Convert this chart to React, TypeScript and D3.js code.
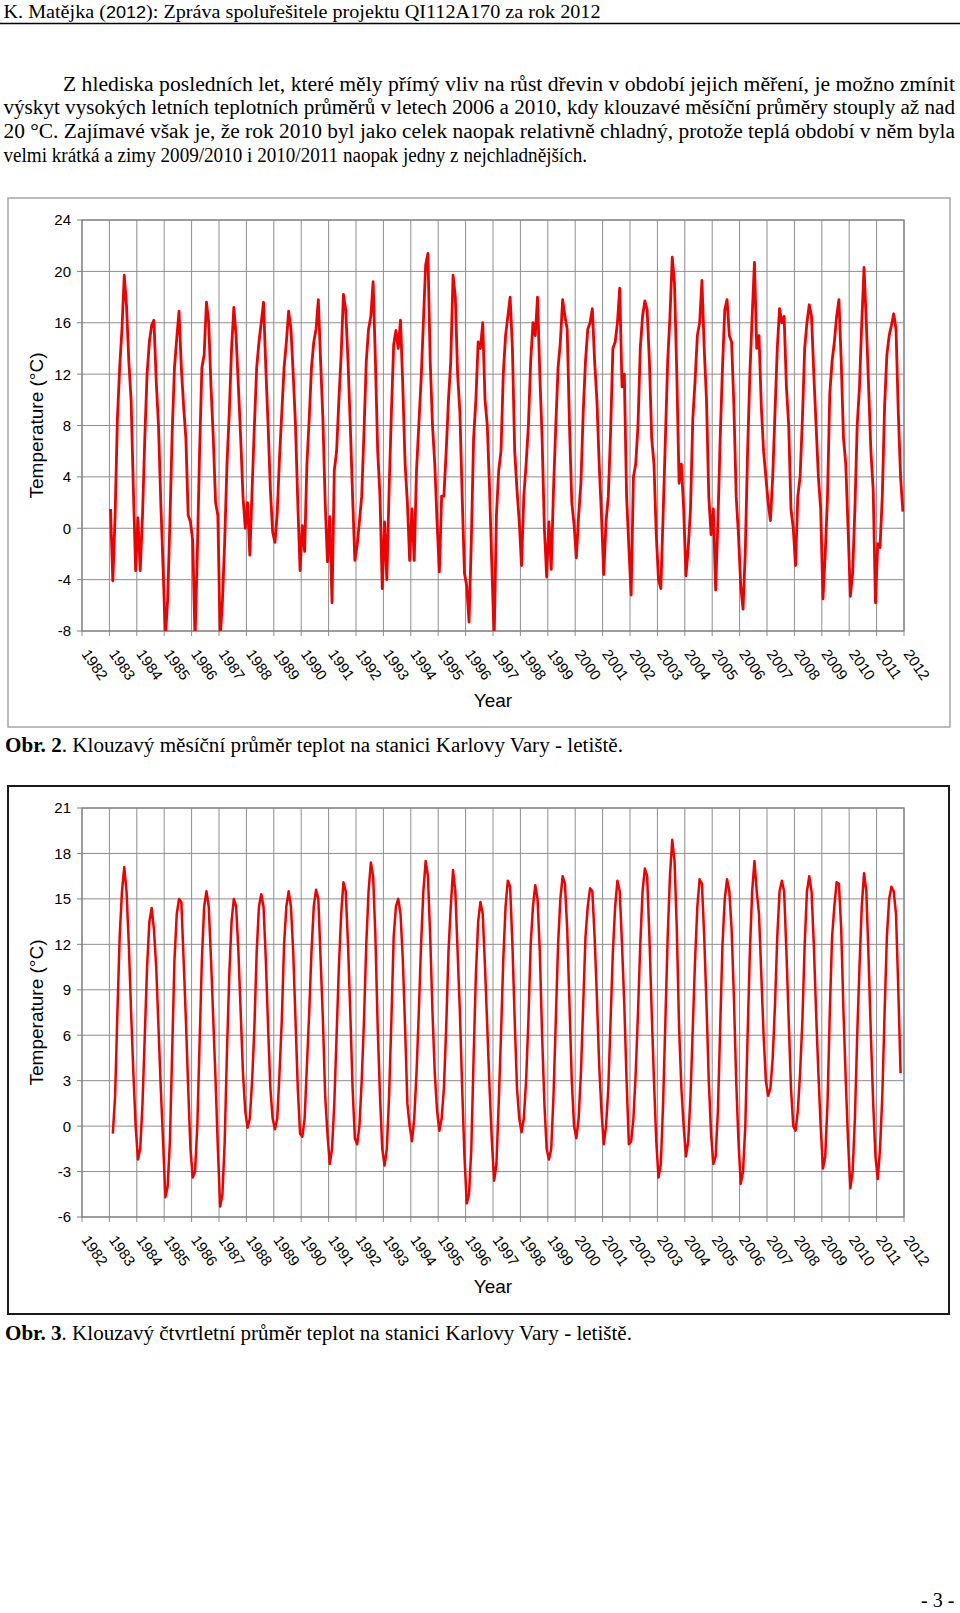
import React from 'react';
import * as d3 from 'd3';

// ---------- DATA ----------
const yearLabels = ['1982','1983','1984','1985','1986','1987','1988','1989','1990','1991','1992','1993','1994','1995','1996','1997','1998','1999','2000','2001','2002','2003','2004','2005','2006','2007','2008','2009','2010','2011','2012'];
const dataYears = [1983,1984,1985,1986,1987,1988,1989,1990,1991,1992,1993,1994,1995,1996,1997,1998,1999,2000,2001,2002,2003,2004,2005,2006,2007,2008,2009,2010,2011];

const monthlyTicks = [-8, -4, 0, 4, 8, 12, 16, 20, 24];
const quarterlyTicks = [-6, -3, 0, 3, 6, 9, 12, 15, 18, 21];

// klouzavý měsíční průměr (values per month Jan..Dec)
const monthlyMean: (number | null)[][] = [
  [1.5, -4.1, 1.0, 8.5, 12.5, 15.5, 19.7, 17.3, 13.0, 10.0, 3.0, -3.3],
  [0.8, -3.3, 1.0, 7.0, 12.0, 14.5, 15.8, 16.2, 11.5, 8.0, 2.0, -3.0],
  [-8.6, -5.6, 0.5, 7.5, 12.5, 14.8, 16.9, 12.5, 9.5, 7.0, 1.0, 0.5],
  [-1.0, -8.6, -2.0, 6.0, 12.5, 13.5, 17.6, 16.0, 11.0, 7.0, 2.0, 1.0],
  [-8.6, -5.7, -1.0, 5.0, 9.0, 14.0, 17.2, 14.9, 11.0, 7.0, 2.5, 0.0],
  [2.0, -2.1, 3.0, 8.0, 12.5, 14.5, 16.0, 17.6, 12.5, 8.0, 3.0, -0.3],
  [-1.1, 1.2, 5.5, 9.0, 12.5, 14.5, 16.9, 15.5, 12.0, 8.0, 2.0, -3.3],
  [0.2, -1.8, 5.0, 8.5, 12.5, 14.5, 15.5, 17.8, 13.0, 8.5, 2.0, -2.6],
  [0.9, -5.8, 4.5, 6.0, 10.0, 13.5, 18.2, 17.0, 13.0, 8.0, 2.5, -2.5],
  [-1.3, 0.5, 2.5, 7.5, 13.0, 15.5, 16.5, 19.2, 13.0, 6.0, 2.5, -4.7],
  [0.5, -4.0, 3.0, 9.0, 14.3, 15.4, 14.0, 16.2, 11.0, 5.0, 2.0, -2.5],
  [1.5, -2.5, 4.5, 8.0, 11.5, 16.0, 20.5, 21.4, 13.0, 8.0, 5.0, 0.5],
  [-3.4, 2.5, 2.5, 6.0, 10.0, 13.0, 19.7, 18.0, 12.0, 9.0, 2.5, -3.5],
  [-4.5, -7.3, -1.0, 7.0, 10.0, 14.5, 14.0, 16.0, 10.0, 8.0, 3.0, -3.0],
  [-8.6, 1.0, 4.5, 6.0, 12.0, 15.0, 16.5, 18.0, 14.0, 6.0, 3.0, 0.5],
  [-2.9, 2.5, 5.0, 8.0, 13.0, 16.0, 15.0, 18.0, 12.0, 7.0, 0.0, -3.8],
  [0.5, -3.2, 3.0, 8.0, 12.5, 14.5, 17.8, 16.5, 15.5, 8.0, 2.0, 0.3],
  [-2.3, 1.0, 3.5, 9.0, 13.0, 15.5, 16.0, 17.1, 13.0, 10.0, 5.0, 1.0],
  [-3.6, 0.5, 2.5, 7.5, 14.0, 14.5, 16.0, 18.7, 11.0, 12.0, 2.5, -1.5],
  [-5.2, 4.0, 5.0, 8.0, 14.0, 16.5, 17.7, 17.0, 13.0, 7.0, 5.0, -0.5],
  [-4.0, -4.7, 1.0, 7.0, 13.0, 16.5, 21.1, 19.0, 12.0, 3.5, 5.0, 1.5],
  [-3.7, -1.5, 1.5, 8.5, 11.5, 15.0, 16.0, 19.3, 14.0, 10.0, 2.5, -0.5],
  [1.5, -4.8, 0.5, 7.0, 12.5, 17.0, 17.8, 15.0, 14.5, 9.5, 2.5, -0.5],
  [-4.5, -6.3, -1.8, 6.0, 12.0, 16.5, 20.7, 14.0, 15.0, 9.5, 6.0, 4.0],
  [2.0, 0.6, 4.0, 9.0, 14.0, 17.1, 16.0, 16.5, 11.0, 8.0, 1.5, 0.0],
  [-2.9, 2.5, 4.0, 8.5, 14.0, 16.0, 17.4, 16.5, 12.0, 8.0, 4.0, 1.5],
  [-5.5, -2.0, 2.5, 10.5, 13.0, 14.5, 16.5, 17.8, 13.0, 7.0, 5.0, 0.0],
  [-5.3, -3.5, 1.5, 8.0, 11.0, 16.0, 20.3, 16.0, 11.0, 6.0, 3.0, -5.8],
  [-1.2, -1.5, 2.5, 9.5, 13.5, 15.0, 15.8, 16.7, 15.5, 9.0, 4.0, 1.3],
];

// klouzavý čtvrtletní průměr (values per month Jan..Dec)
const quarterlyMean: (number | null)[][] = [
  [null, -0.5, 2.0, 7.5, 12.5, 15.5, 17.1, 15.5, 12.0, 7.5, 3.5, 0.0],
  [-2.2, -1.5, 1.5, 6.0, 10.5, 13.5, 14.4, 13.0, 10.5, 6.5, 2.5, -1.0],
  [-4.7, -4.0, -1.0, 5.0, 11.0, 14.0, 15.0, 14.8, 11.0, 7.0, 2.5, -1.5],
  [-3.4, -3.0, 0.0, 5.5, 11.0, 14.5, 15.5, 14.5, 11.0, 7.0, 3.0, -1.5],
  [-5.3, -4.5, -1.0, 5.0, 10.0, 13.5, 15.0, 14.5, 11.5, 7.5, 3.5, 1.0],
  [-0.1, 0.5, 3.0, 6.5, 11.5, 14.5, 15.3, 14.5, 11.0, 6.5, 2.5, 0.5],
  [-0.2, 0.5, 3.5, 7.0, 12.0, 14.5, 15.5, 14.5, 11.5, 7.0, 2.5, -0.5],
  [-0.7, 0.5, 4.0, 7.5, 11.5, 14.5, 15.6, 15.0, 11.0, 7.0, 2.0, -0.5],
  [-2.5, -1.5, 1.5, 6.0, 10.5, 14.0, 16.1, 15.5, 12.0, 7.5, 2.5, -0.8],
  [-1.2, 0.0, 3.0, 7.0, 12.0, 15.5, 17.4, 16.5, 12.5, 6.5, 2.0, -1.5],
  [-2.6, -1.5, 2.0, 7.0, 12.5, 14.5, 15.0, 14.0, 11.0, 6.5, 1.5, 0.0],
  [-1.0, 0.5, 3.5, 7.5, 12.0, 15.5, 17.5, 16.5, 12.5, 7.5, 3.5, 1.0],
  [-0.3, 0.5, 2.5, 6.5, 11.5, 14.5, 16.9, 15.5, 11.5, 7.5, 2.5, -2.0],
  [-5.1, -4.5, -1.5, 4.5, 10.0, 13.5, 14.8, 14.0, 10.5, 6.5, 2.5, -1.0],
  [-3.6, -2.5, 1.5, 6.0, 11.0, 14.5, 16.2, 15.8, 12.0, 7.0, 2.5, 0.5],
  [-0.4, 0.5, 3.0, 7.0, 12.0, 14.5, 15.9, 15.0, 11.5, 6.0, 1.5, -1.5],
  [-2.2, -1.5, 2.0, 7.0, 12.0, 15.0, 16.5, 16.0, 13.0, 8.0, 3.0, 0.0],
  [-0.8, 0.5, 3.5, 8.0, 12.5, 14.5, 15.7, 15.5, 12.5, 8.5, 4.0, 1.0],
  [-1.2, 0.0, 2.5, 7.0, 11.5, 14.5, 16.2, 15.5, 12.0, 8.0, 3.0, -1.2],
  [-1.0, 0.5, 3.5, 7.5, 12.0, 15.5, 17.0, 16.5, 12.5, 7.5, 3.0, -1.0],
  [-3.4, -2.5, 1.5, 7.0, 12.5, 16.5, 18.9, 17.5, 13.0, 6.5, 2.5, 0.0],
  [-2.0, -1.0, 2.0, 6.5, 11.0, 14.5, 16.3, 16.0, 12.5, 8.0, 3.0, -0.5],
  [-2.5, -2.0, 1.0, 6.5, 12.0, 15.0, 16.3, 15.5, 13.0, 8.5, 3.0, -1.0],
  [-3.8, -3.0, 0.0, 6.0, 11.5, 15.5, 17.5, 15.5, 14.0, 10.0, 6.0, 3.0],
  [2.0, 2.5, 4.5, 8.0, 12.5, 15.5, 16.2, 15.5, 11.5, 7.0, 2.5, 0.0],
  [-0.3, 1.0, 3.5, 7.0, 12.0, 15.5, 16.5, 15.5, 12.0, 7.5, 3.5, 0.0],
  [-2.8, -2.0, 1.5, 7.5, 12.5, 14.5, 16.1, 16.0, 13.0, 7.5, 3.0, -1.0],
  [-4.1, -3.0, 0.5, 6.0, 10.5, 14.5, 16.7, 15.5, 11.0, 6.0, 1.5, -2.0],
  [-3.5, -1.5, 2.0, 7.5, 12.5, 15.0, 15.8, 15.5, 14.0, 9.0, 3.5, null],
];

const headerText = ['K. Matějka (', '2012', '): Zpráva spoluřešitele projektu QI112A170 za rok 2012'];
const paragraphLines = [
  'Z hlediska posledních let, které měly přímý vliv na růst dřevin v období jejich měření, je možno zmínit',
  'výskyt vysokých letních teplotních průměrů v letech 2006 a 2010, kdy klouzavé měsíční průměry stouply až nad',
  '20 °C. Zajímavé však je, že rok 2010 byl jako celek naopak relativně chladný, protože teplá období v něm byla',
  'velmi krátká a zimy 2009/2010 i 2010/2011 naopak jedny z nejchladnějších.',
];
const caption1 = ['Obr. 2', '. Klouzavý měsíční průměr teplot na stanici Karlovy Vary - letiště.'];
const caption2 = ['Obr. 3', '. Klouzavý čtvrtletní průměr teplot na stanici Karlovy Vary - letiště.'];
const pageNumber = '- 3 -';
const yTitle = 'Temperature (°C)';
const xTitle = 'Year';

// ---------- HELPERS ----------
const SERIF = '"Liberation Serif", "Times New Roman", serif';
const SANS = '"Liberation Sans", Arial, sans-serif';

type Pt = { t: number; v: number };
function toPoints(rows: (number | null)[][]): Pt[] {
  const pts: Pt[] = [];
  rows.forEach((row, i) => {
    row.forEach((v, m) => {
      if (v !== null) pts.push({ t: dataYears[i] + (m + 0.5) / 12, v });
    });
  });
  return pts;
}

interface ChartProps {
  id: string;
  outer: { x: number; y: number; w: number; h: number };
  plot: { l: number; t: number; r: number; b: number };
  yTicks: number[];
  rows: (number | null)[][];
  borderColor: string;
  borderWidth: number;
  lineWidth: number;
}

function Chart({ id, outer, plot, yTicks, rows, borderColor, borderWidth, lineWidth }: ChartProps) {
  const x = d3.scaleLinear().domain([1982, 2012]).range([plot.l, plot.r]);
  const y = d3.scaleLinear().domain([yTicks[0], yTicks[yTicks.length - 1]]).range([plot.b, plot.t]);
  const pts = toPoints(rows);
  const line = d3.line<Pt>().x(d => x(d.t)).y(d => y(d.v)).curve(d3.curveLinear);
  const gridColor = '#8e8e8e';
  const cy = (plot.t + plot.b) / 2;
  const cx = (plot.l + plot.r) / 2;
  return (
    <g>
      <rect x={outer.x} y={outer.y} width={outer.w} height={outer.h} fill="#fff" stroke={borderColor} strokeWidth={borderWidth} />
      <defs>
        <clipPath id={id}>
          <rect x={plot.l} y={plot.t} width={plot.r - plot.l} height={plot.b - plot.t} />
        </clipPath>
      </defs>
      {yTicks.map(t => (
        <line key={'h' + t} x1={plot.l} x2={plot.r} y1={y(t)} y2={y(t)} stroke={gridColor} strokeWidth={1} />
      ))}
      {yearLabels.map(l => (
        <line key={'v' + l} x1={x(+l)} x2={x(+l)} y1={plot.t} y2={plot.b + 5} stroke={gridColor} strokeWidth={1} />
      ))}
      <rect x={plot.l} y={plot.t} width={plot.r - plot.l} height={plot.b - plot.t} fill="none" stroke="#808080" strokeWidth={1.2} />
      {yTicks.map(t => (
        <g key={'yt' + t}>
          <line x1={plot.l - 5} x2={plot.l} y1={y(t)} y2={y(t)} stroke="#808080" strokeWidth={1} />
          <text x={plot.l - 11} y={y(t)} dy="0.36em" textAnchor="end" fontFamily={SANS} fontSize={15} fill="#000">{t}</text>
        </g>
      ))}
      {yearLabels.map(l => (
        <text key={'xl' + l} transform={`translate(${x(+l) - 1},${plot.b + 23}) rotate(55)`} fontFamily={SANS} fontSize={15} fill="#000">{l}</text>
      ))}
      <text x={cx} y={plot.b + 76} textAnchor="middle" fontFamily={SANS} fontSize={19} fill="#000">{xTitle}</text>
      <text transform={`translate(43,${cy}) rotate(-90)`} textAnchor="middle" fontFamily={SANS} fontSize={19} fill="#000">{yTitle}</text>
      <path d={line(pts) || ''} fill="none" stroke="#f00000" strokeWidth={lineWidth} strokeLinejoin="round" clipPath={`url(#${id})`} />
    </g>
  );
}

export default function App() {
  return (
    <svg width={960} height={1613} viewBox="0 0 960 1613" style={{ position: 'absolute', left: 0, top: 0, display: 'block', background: '#fff' }}>
      <rect x={0} y={0} width={960} height={1613} fill="#fff" />
      {/* header */}
      <text x={3.5} y={17.5} fontFamily={SERIF} fontSize={19} fill="#000" textLength={597} lengthAdjust="spacingAndGlyphs">
        <tspan>{headerText[0]}</tspan>
        <tspan fontFamily={SANS} fontSize={17}>{headerText[1]}</tspan>
        <tspan>{headerText[2]}</tspan>
      </text>
      <line x1={0} x2={960} y1={23.5} y2={23.5} stroke="#000" strokeWidth={1.5} />
      {/* paragraph */}
      {paragraphLines.map((s, i) => {
        const x0 = i === 0 ? 63 : 3.5;
        const x1 = i === 3 ? 587 : 955;
        return (
          <text key={'p' + i} x={x0} y={90.5 + i * 23.8} fontFamily={SERIF} fontSize={20} fill="#000" textLength={x1 - x0} lengthAdjust="spacingAndGlyphs">{s}</text>
        );
      })}
      <Chart id="clip1" outer={{ x: 8, y: 198, w: 942, h: 529 }} plot={{ l: 82, t: 220, r: 904, b: 631 }} yTicks={monthlyTicks} rows={monthlyMean} borderColor="#a6a6a6" borderWidth={1.5} lineWidth={2.8} />
      <text x={5} y={751.5} fontFamily={SERIF} fontSize={20} fill="#000" textLength={618} lengthAdjust="spacingAndGlyphs">
        <tspan fontWeight="bold">{caption1[0]}</tspan>
        <tspan>{caption1[1]}</tspan>
      </text>
      <Chart id="clip2" outer={{ x: 8, y: 786, w: 941, h: 528 }} plot={{ l: 82, t: 808, r: 904, b: 1217 }} yTicks={quarterlyTicks} rows={quarterlyMean} borderColor="#1a1a1a" borderWidth={2} lineWidth={2.5} />
      <text x={5} y={1340} fontFamily={SERIF} fontSize={21} fill="#000" textLength={627} lengthAdjust="spacingAndGlyphs">
        <tspan fontWeight="bold">{caption2[0]}</tspan>
        <tspan>{caption2[1]}</tspan>
      </text>
      <text x={921} y={1607} fontFamily={SERIF} fontSize={20} fill="#000">{pageNumber}</text>
    </svg>
  );
}
